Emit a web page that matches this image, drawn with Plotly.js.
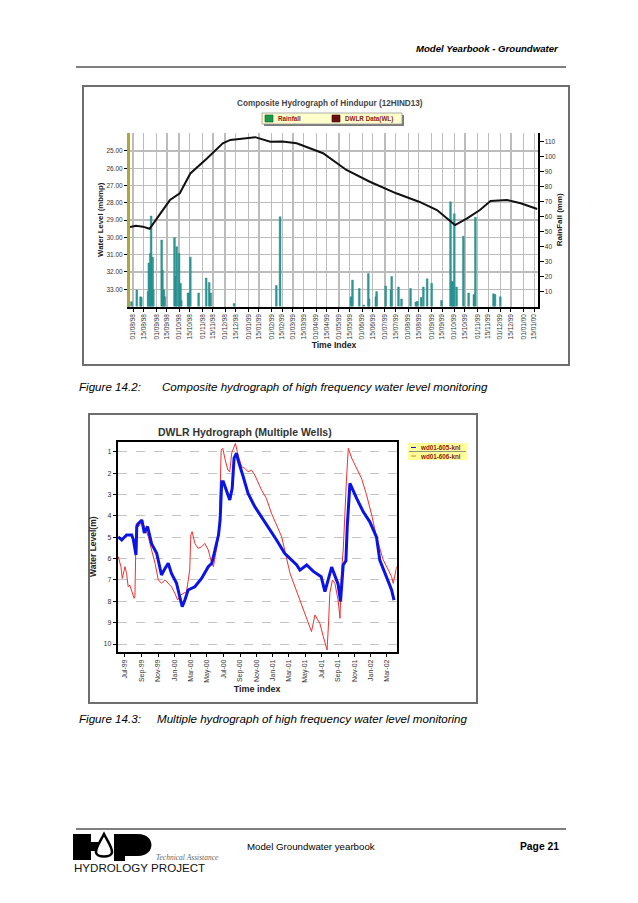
<!DOCTYPE html>
<html><head><meta charset="utf-8">
<script src="https://cdn.plot.ly/plotly-3.0.1.min.js"></script>
<style>html,body{margin:0;padding:0;background:#fff;}#page{width:638px;height:903px;}</style>
</head><body><div id="page"></div>
<script>
// ---------- Figure 14.2 : Composite hydrograph ----------
const topTickDates = ['1998-08-01','1998-08-15','1998-09-01','1998-09-15','1998-10-01','1998-10-15','1998-11-01','1998-11-15','1998-12-01','1998-12-15','1999-01-01','1999-01-15','1999-02-01','1999-02-15','1999-03-01','1999-03-15','1999-04-01','1999-04-15','1999-05-01','1999-05-15','1999-06-01','1999-06-15','1999-07-01','1999-07-15','1999-08-01','1999-08-15','1999-09-01','1999-09-15','1999-10-01','1999-10-15','1999-11-01','1999-11-15','1999-12-01','1999-12-15','2000-01-01','2000-01-15'];
const waterLevelTicks = [25,26,27,28,29,30,31,32,33];
const rainTicks = [10,20,30,40,50,60,70,80,90,100,110];
const topLegendNames = ['Rainfall','DWLR Data(WL)'];

const wlDates = ['1998-07-28','1998-08-05','1998-08-14','1998-08-23','1998-09-05','1998-09-19','1998-10-02','1998-10-16','1998-11-07','1998-11-28','1998-12-08','1998-12-30','1999-01-10','1999-01-30','1999-02-15','1999-03-06','1999-04-10','1999-05-11','1999-06-11','1999-07-16','1999-08-16','1999-09-08','1999-10-02','1999-10-18','1999-11-04','1999-11-18','1999-12-10','1999-12-28','2000-01-19'];
const wlValues = [29.40,29.33,29.38,29.50,28.70,27.84,27.45,26.30,25.43,24.56,24.36,24.26,24.20,24.46,24.45,24.55,25.13,26.10,26.78,27.45,27.95,28.42,29.29,28.90,28.42,27.90,27.84,28.03,28.36];

const rainDates = ['1998-07-30','1998-08-06','1998-08-11','1998-08-12','1998-08-21','1998-08-22','1998-08-24','1998-08-25','1998-08-27','1998-08-28','1998-09-08','1998-09-09','1998-09-11','1998-09-12','1998-09-25','1998-09-27','1998-09-28','1998-10-01','1998-10-03','1998-10-04','1998-10-13','1998-10-14','1998-10-16','1998-10-27','1998-11-06','1998-11-10','1998-11-12','1998-12-13','1999-02-07','1999-02-12','1999-05-17','1999-05-19','1999-05-28','1999-06-03','1999-06-09','1999-06-10','1999-06-19','1999-06-20','1999-07-02','1999-07-09','1999-07-10','1999-07-19','1999-07-23','1999-08-04','1999-08-11','1999-08-13','1999-08-18','1999-08-21','1999-08-26','1999-09-01','1999-09-14','1999-09-26','1999-09-28','1999-09-29','1999-10-01','1999-10-04','1999-10-13','1999-10-20','1999-10-27','1999-10-29','1999-11-22','1999-11-24','1999-12-01'];
const rainValues = [3.2,11,6.5,6,10,29,35.5,60.5,33,11,44.5,24,11,6.5,46,20,40,35.5,15.5,4,9,9,33,9,19,16,9,2,14,60,6.5,17.7,12,1,22,5,6.5,10,13.7,11,20,13,5,12,3,3.5,6,13,18.5,15.5,4,70,16.6,16.6,62,13,47,9,8,59.6,8.5,8,6.5];

// ---------- Figure 14.3 : DWLR hydrograph (multiple wells) ----------
const bottomTickDates = ['1999-07-01','1999-09-01','1999-11-01','2000-01-01','2000-03-01','2000-05-01','2000-07-01','2000-09-01','2000-11-01','2001-01-01','2001-03-01','2001-05-01','2001-07-01','2001-09-01','2001-11-01','2002-01-01','2002-03-01'];
const levelTicks = [1,2,3,4,5,6,7,8,9,10];
const wellNames = ['wd01-605-knl','wd01-606-knl'];

const w605Dates = ['1999-06-06','1999-06-19','1999-07-07','1999-07-26','1999-08-01','1999-08-07','1999-08-11','1999-08-14','1999-08-20','1999-09-02','1999-09-11','1999-09-23','1999-10-08','1999-10-27','1999-11-08','1999-11-14','1999-11-27','1999-12-09','1999-12-21','2000-01-09','2000-01-21','2000-01-30','2000-02-09','2000-02-21','2000-03-17','2000-04-11','2000-05-06','2000-05-19','2000-05-31','2000-06-13','2000-06-19','2000-06-25','2000-07-01','2000-07-13','2000-07-25','2000-08-03','2000-08-10','2000-08-19','2000-08-25','2000-09-13','2000-10-01','2000-10-26','2000-11-20','2000-12-15','2001-01-15','2001-02-14','2001-03-06','2001-03-31','2001-04-12','2001-05-07','2001-06-01','2001-06-30','2001-07-14','2001-08-08','2001-09-01','2001-09-10','2001-09-20','2001-09-30','2001-10-05','2001-10-15','2001-11-09','2001-12-03','2001-12-28','2002-01-22','2002-02-03','2002-03-01','2002-03-19','2002-03-28'];
const w605Values = [4.98,5.13,4.90,4.90,5.10,5.68,5.83,4.50,4.35,4.20,4.80,4.50,5.30,5.75,6.38,6.77,6.46,6.22,6.70,7.16,7.80,8.25,7.94,7.47,7.32,6.93,6.38,6.22,5.60,4.90,4.20,2.40,2.40,2.80,3.26,2.71,1.30,1.07,1.40,2.17,2.95,3.57,4.04,4.50,5.13,5.75,5.99,6.30,6.54,6.30,6.60,6.85,7.55,6.40,7.20,8.00,6.30,6.10,4.50,2.48,3.18,3.80,4.28,5.00,6.07,6.85,7.47,7.95];

const w606Dates = ['1999-06-06','1999-06-16','1999-06-21','1999-07-01','1999-07-07','1999-07-13','1999-07-19','1999-07-26','1999-08-04','1999-08-07','1999-08-12','1999-08-20','1999-09-04','1999-09-14','1999-09-26','1999-10-08','1999-10-21','1999-11-02','1999-11-14','1999-11-27','1999-12-09','1999-12-21','2000-01-03','2000-01-13','2000-01-25','2000-02-15','2000-02-27','2000-03-02','2000-03-07','2000-03-17','2000-03-29','2000-04-11','2000-04-23','2000-05-06','2000-05-19','2000-05-25','2000-06-07','2000-06-15','2000-06-23','2000-06-29','2000-07-08','2000-07-18','2000-07-25','2000-08-01','2000-08-10','2000-08-15','2000-08-23','2000-09-07','2000-09-19','2000-10-01','2000-10-14','2000-10-26','2000-11-20','2000-12-08','2000-12-27','2001-02-03','2001-03-06','2001-04-24','2001-05-25','2001-06-07','2001-06-25','2001-07-08','2001-07-22','2001-07-28','2001-08-01','2001-08-11','2001-08-20','2001-09-01','2001-09-08','2001-09-13','2001-09-20','2001-10-03','2001-10-09','2001-10-22','2001-11-09','2001-11-27','2001-12-16','2002-01-04','2002-01-22','2002-02-16','2002-03-07','2002-03-19','2002-03-25','2002-04-07'];
const w606Values = [5.91,6.38,6.93,6.38,6.69,7.32,7.24,7.47,7.86,7.79,4.35,4.50,4.28,4.59,4.98,5.60,6.22,7.00,7.16,7.00,7.16,7.32,7.63,7.94,7.70,7.55,6.54,4.90,4.74,5.29,5.52,5.45,5.29,5.60,6.22,6.38,5.45,4.82,0.92,0.84,1.39,1.86,1.94,1.07,0.77,0.61,1.07,1.70,1.78,1.94,1.86,2.09,2.79,3.18,3.88,4.98,6.69,8.41,9.42,8.64,9.03,9.66,10.28,8.88,7.63,7.00,7.16,7.94,8.80,6.70,5.60,2.09,0.84,1.31,1.78,2.24,3.03,3.96,5.00,6.07,6.54,6.85,7.16,6.38];

// ---------- helpers: page pixel -> paper fraction ----------
const W = 638, H = 903;
const fx = x => x / W, fy = y => 1 - y / H;
const pt = (x, y) => fx(x) + ',' + fy(y);
const FONT = 'Arial, "Liberation Sans", sans-serif';
const DAY = 86400000;
const RAIN_COLOR = '#2f9a98', WL_COLOR = '#111', C605 = '#0a14e6', C606 = '#f03030';

const traces = [
  {type:'bar', name:topLegendNames[0], x:rainDates, y:rainValues, xaxis:'x', yaxis:'y',
   width:2.4*DAY, marker:{color:RAIN_COLOR, line:{color:'#1d7d7b', width:0.4}}},
  {type:'scatter', mode:'lines', name:topLegendNames[1], x:wlDates, y:wlValues, xaxis:'x', yaxis:'y2',
   line:{color:WL_COLOR, width:2}},
  {type:'scatter', mode:'lines', name:wellNames[1], x:w606Dates, y:w606Values, xaxis:'x2', yaxis:'y3',
   line:{color:C606, width:1}},
  {type:'scatter', mode:'lines', name:wellNames[0], x:w605Dates, y:w605Values, xaxis:'x2', yaxis:'y3',
   line:{color:C605, width:3}}
];

function rect(x0,y0,x1,y1,opt){
  return Object.assign({type:'rect', xref:'paper', yref:'paper', x0:fx(x0), x1:fx(x1), y0:fy(y1), y1:fy(y0)}, opt);
}
function hline(x0,x1,y,color,w){
  return {type:'line', xref:'paper', yref:'paper', x0:fx(x0), x1:fx(x1), y0:fy(y), y1:fy(y), line:{color:color, width:w}};
}
const logoP = 'M' + pt(114,834) + ' L' + pt(138,834) + ' C' + pt(156,834) + ' ' + pt(156,856) + ' ' + pt(138,856) +
              ' L' + pt(125,856) + ' L' + pt(125,861) + ' L' + pt(114,861) + ' Z';
const drop = 'M' + pt(104,834) + ' C' + pt(108,842) + ' ' + pt(112,847) + ' ' + pt(112,852) +
             ' C' + pt(112,858) + ' ' + pt(96,858) + ' ' + pt(96,852) + ' C' + pt(96,847) + ' ' + pt(100,842) + ' ' + pt(104,834) + ' Z';

const shapes = [
  hline(76,566,67,'#000',1),
  rect(83,86,569,365,{line:{color:'#6e6e6e', width:2}}),
  rect(89,414,477,703,{line:{color:'#6e6e6e', width:2}}),
  // legend of figure 14.2
  rect(264,115,404,126,{fillcolor:'#7a7a7a', line:{width:0}}),
  rect(262,113,402,124,{fillcolor:'#ffffcc', line:{color:'#9a9a9a', width:0.8}}),
  rect(265,115,273,122,{fillcolor:'#1b9a4a', line:{color:'#0d5e2c', width:0.6}}),
  rect(332,115,340,122,{fillcolor:'#6b1010', line:{color:'#3a0505', width:0.6}}),
  // legend of figure 14.3
  rect(408,443,467,460,{fillcolor:'#ffff99', line:{width:0}}),
  hline(411,416,447.5,C605,1),
  hline(409,466,451.5,'#777',0.8),
  hline(411,416,456,'#e08030',1),
  // footer
  hline(76,566,829,'#000',1),
  rect(73,834,91,860,{fillcolor:'#000', line:{width:0}}),
  rect(91,842,99,851,{fillcolor:'#000', line:{width:0}}),
  {type:'path', xref:'paper', yref:'paper', path:drop, fillcolor:'#fff', line:{color:'#000', width:2.5}},
  {type:'path', xref:'paper', yref:'paper', path:logoP, fillcolor:'#000', line:{width:0}}
];

function txt(x,y,text,size,opt){
  return Object.assign({xref:'paper', yref:'paper', x:fx(x), y:fy(y), text:text, showarrow:false,
    xanchor:'left', yanchor:'middle', font:{size:size, color:'#000', family:FONT}}, opt);
}
const LEG = {size:6.3, color:'#8b1a1a', family:FONT};
const annotations = [
  txt(561,49,'<b><i>Model Yearbook - Groundwater</i></b>',9.6,{xanchor:'right'}),
  txt(330,103,'<b>Composite Hydrograph of Hindupur (12HIND13)</b>',8.2,{xanchor:'center', font:{size:8.2,color:'#444',family:FONT}}),
  txt(276,118.5,'<b>'+topLegendNames[0]+'</b>',6.3,{font:LEG}),
  txt(343,118.5,'<b>'+topLegendNames[1]+'</b>',6.3,{font:LEG}),
  txt(77,386,'<i>Figure 14.2:</i>',11.6),
  txt(160,386,'<i>Composite hydrograph of high frequency water level monitoring</i>',11.6),
  txt(245,432,'<b>DWLR Hydrograph (Multiple Wells)</b>',10.5,{xanchor:'center', font:{size:10.5,color:'#333',family:FONT}}),
  txt(418,447.5,'<b>'+wellNames[0]+'</b>',6.3,{font:LEG}),
  txt(418,456,'<b>'+wellNames[1]+'</b>',6.3,{font:LEG}),
  txt(77,718,'<i>Figure 14.3:</i>',11.6),
  txt(155,718,'<i>Multiple hydrograph of high frequency water level monitoring</i>',11.6),
  txt(245,846,'Model Groundwater yearbook',9.7),
  txt(561,846,'<b>Page 21</b>',10.3,{xanchor:'right'}),
  txt(154,857,'<i>Technical Assistance</i>',7.5,{font:{size:7.5,color:'#666',family:'"Liberation Serif", serif'}}),
  txt(72,867,'HYDROLOGY PROJECT',11.6,{font:{size:11.6,color:'#111',family:FONT}})
];

const layout = {
  width:W, height:H, margin:{l:0,r:0,t:0,b:0},
  paper_bgcolor:'#fff', plot_bgcolor:'rgba(0,0,0,0)',
  font:{family:FONT, color:'#222'},
  showlegend:false,
  xaxis:{domain:[fx(130),fx(538)], anchor:'y', type:'date', range:['1998-07-28','2000-01-20'],
    tickmode:'array', tickvals:topTickDates, tickformat:'%d/%m/%y', tickangle:-90,
    tickfont:{size:6.5,color:'#333'}, ticks:'outside', ticklen:3, tickcolor:'#000',
    showline:true, linecolor:'#000', linewidth:2, showgrid:true, gridcolor:'#bcbcbc', gridwidth:1.3, zeroline:false,
    title:{text:'<b>Time Index</b>', font:{size:8.6,color:'#222'}, standoff:4}},
  yaxis:{domain:[fy(306.5),fy(133)], anchor:'x', side:'right', range:[0,116],
    tickmode:'array', tickvals:rainTicks, tickfont:{size:6.5,color:'#333'}, ticks:'outside', ticklen:4, tickcolor:'#000',
    showline:true, linecolor:'#000', linewidth:1.5, showgrid:false, zeroline:false,
    title:{text:'<b>RainFall (mm)</b>', font:{size:8,color:'#222'}, standoff:1}},
  yaxis2:{overlaying:'y', anchor:'x', side:'left', range:[34.0,23.96],
    tickmode:'array', tickvals:waterLevelTicks, tickformat:'.2f', tickfont:{size:6.5,color:'#333'},
    ticks:'outside', ticklen:3, tickcolor:'#000',
    showline:true, linecolor:'#b2a535', linewidth:3, showgrid:true, gridcolor:'#bcbcbc', gridwidth:1.3, zeroline:false,
    title:{text:'<b>Water Level (mbmp)</b>', font:{size:7.8,color:'#222'}, standoff:2}},
  xaxis2:{domain:[fx(117.7),fx(396.7)], anchor:'y3', type:'date', range:['1999-06-04','2002-04-07'],
    tickmode:'array', tickvals:bottomTickDates, tickformat:'%b-%y', tickangle:-90,
    tickfont:{size:7,color:'#333'}, ticks:'outside', ticklen:3, tickcolor:'#000',
    showline:true, mirror:true, linecolor:'#000', linewidth:2, showgrid:false, zeroline:false,
    title:{text:'<b>Time index</b>', font:{size:9,color:'#222'}, standoff:4}},
  yaxis3:{domain:[fy(651.7),fy(441.7)], anchor:'x2', range:[10.36,0.53],
    tickmode:'array', tickvals:levelTicks, tickfont:{size:7,color:'#333'}, ticks:'outside', ticklen:3, tickcolor:'#000',
    showline:true, mirror:true, linecolor:'#000', linewidth:2, showgrid:true, gridcolor:'#c4c4c4', griddash:'dash', gridwidth:1, zeroline:false,
    title:{text:'<b>Water Level(m)</b>', font:{size:8.5,color:'#222'}, standoff:6}},
  shapes:shapes, annotations:annotations
};

Plotly.newPlot('page', traces, layout, {staticPlot:true, displayModeBar:false});
</script></body></html>
